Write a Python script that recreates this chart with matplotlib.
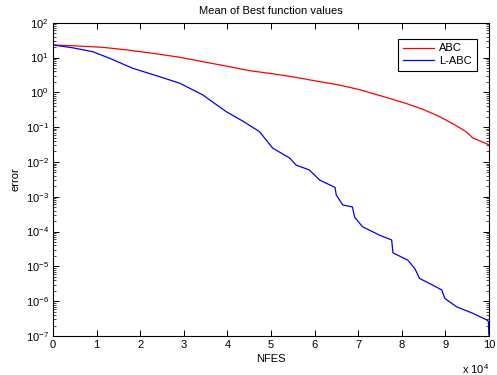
import numpy as np
import matplotlib.pyplot as plt
from matplotlib.ticker import LogLocator, NullFormatter

# NFES (x 10^4) and mean best error
abc_x = [0.0, 0.5, 1.14, 1.7, 2.29, 2.9, 3.43, 4.0, 4.5, 5.08, 5.6, 6.0, 6.57, 7.0, 7.33, 7.7, 8.1,
         8.5, 8.87, 9.2, 9.48, 9.63, 9.8, 10.0]
abc_y = [22.9, 21.6, 19.6, 16.5, 13.2, 10.2, 7.6, 5.6, 4.2, 3.36, 2.65, 2.15, 1.62, 1.22, 0.93, 0.68, 0.48,
         0.32, 0.2, 0.12, 0.074, 0.049, 0.04, 0.031]

labc_x = [0.0, 0.45, 0.91, 1.3, 1.83, 2.45, 2.91, 3.43, 3.6, 3.98, 4.35, 4.74, 5.04, 5.43, 5.58,
          5.88, 6.12, 6.47, 6.5, 6.65, 6.87, 6.92, 7.1, 7.49, 7.77, 7.8, 8.14, 8.3, 8.41, 8.71,
          8.92, 8.99, 9.26, 9.63, 9.95, 9.99, 10.0]
labc_y = [22.9, 19.0, 14.7, 9.5, 4.9, 2.8, 1.82, 0.85, 0.6, 0.275, 0.15, 0.074, 0.025, 0.0129, 0.0081,
          0.0059, 0.003, 0.00186, 0.00112, 0.00058, 0.00051, 0.00026, 0.000138, 7.9e-5, 5.75e-5, 2.45e-5,
          1.51e-5, 8.7e-6, 4.5e-6, 2.9e-6, 2.1e-6, 1.2e-6, 6.9e-7, 4.5e-7, 2.9e-7, 2.6e-7, 1.07e-7]


def main():
    plt.rcParams['font.family'] = ['Liberation Sans', 'DejaVu Sans']
    plt.rcParams['mathtext.fontset'] = 'custom'
    plt.rcParams['mathtext.rm'] = 'Liberation Sans'

    fig = plt.figure(figsize=(4.97, 3.75), dpi=100)
    ax = fig.add_axes([0.1066, 0.104, 0.877, 0.8355])

    ax.semilogy(abc_x, abc_y, color='#ff0000', lw=0.9, label='ABC')
    ax.semilogy(labc_x, labc_y, color='#0000ff', lw=0.9, label='L-ABC')

    ax.set_xlim(0, 10)
    ax.set_ylim(1e-7, 1e2)
    ax.set_xticks(range(11))
    ax.yaxis.set_major_locator(LogLocator(base=10, numticks=20))
    ax.yaxis.set_minor_locator(LogLocator(base=10, subs=np.arange(2, 10), numticks=20))
    ax.yaxis.set_minor_formatter(NullFormatter())

    ax.tick_params(which='both', direction='in', top=True, right=True, labelsize=8, pad=3)
    ax.tick_params(which='major', length=4, width=0.7)
    ax.tick_params(which='minor', length=2, width=0.5)
    for sp in ax.spines.values():
        sp.set_linewidth(0.8)

    ax.set_title('Mean of Best function values', fontsize=8, pad=6)
    ax.set_xlabel('NFES', fontsize=8, labelpad=3)
    ax.set_ylabel('error', fontsize=8, labelpad=4)
    ax.text(1.0, -0.085, r'x 10$^{4}$', transform=ax.transAxes, ha='right', va='top', fontsize=8)

    leg = ax.legend(loc='upper right', bbox_to_anchor=(0.972, 0.948), borderaxespad=0, fontsize=8,
                    fancybox=False, framealpha=1, edgecolor='black', handlelength=2.8,
                    handletextpad=0.5, borderpad=0.4, labelspacing=0.25)
    leg.get_frame().set_linewidth(0.8)

    fig.savefig('out.png', dpi=100)


if __name__ == "__main__":
    main()
